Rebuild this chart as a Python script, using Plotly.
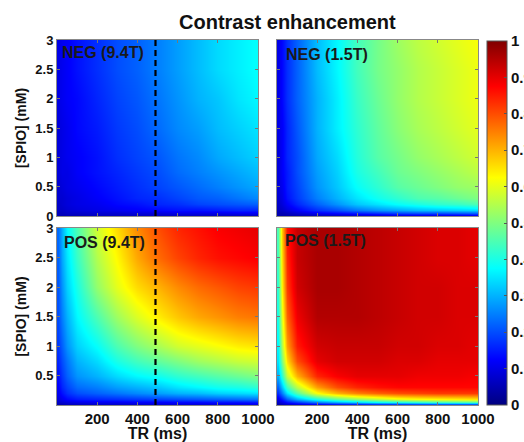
import plotly.graph_objects as go

# ---- data ----
TR = [5, 25, 50, 100, 200, 300, 400, 500, 600, 700, 800, 900, 1000]          # ms
SPIO = [0, 0.05, 0.1, 0.2, 0.3, 0.5, 0.75, 1.0, 1.5, 2.0, 2.5, 3.0]         # mM

neg_94 = [
    [0.05, 0.05, 0.05, 0.05, 0.06, 0.06, 0.06, 0.06, 0.06, 0.06, 0.06, 0.06, 0.06],
    [0.06, 0.06, 0.07, 0.07, 0.08, 0.08, 0.09, 0.09, 0.10, 0.10, 0.10, 0.11, 0.11],
    [0.07, 0.07, 0.08, 0.09, 0.10, 0.11, 0.12, 0.13, 0.14, 0.14, 0.15, 0.16, 0.16],
    [0.07, 0.08, 0.09, 0.10, 0.11, 0.13, 0.14, 0.16, 0.17, 0.19, 0.20, 0.21, 0.22],
    [0.08, 0.08, 0.09, 0.10, 0.12, 0.14, 0.16, 0.17, 0.19, 0.21, 0.22, 0.24, 0.26],
    [0.08, 0.09, 0.10, 0.11, 0.13, 0.15, 0.17, 0.19, 0.21, 0.23, 0.25, 0.27, 0.29],
    [0.09, 0.10, 0.10, 0.12, 0.14, 0.16, 0.18, 0.20, 0.23, 0.25, 0.27, 0.29, 0.31],
    [0.09, 0.10, 0.11, 0.12, 0.14, 0.17, 0.19, 0.21, 0.24, 0.26, 0.29, 0.31, 0.33],
    [0.09, 0.10, 0.11, 0.13, 0.15, 0.18, 0.20, 0.23, 0.26, 0.28, 0.31, 0.33, 0.35],
    [0.10, 0.11, 0.12, 0.13, 0.16, 0.19, 0.21, 0.24, 0.27, 0.30, 0.32, 0.35, 0.37],
    [0.10, 0.11, 0.12, 0.14, 0.17, 0.20, 0.22, 0.25, 0.28, 0.31, 0.34, 0.36, 0.38],
    [0.10, 0.11, 0.12, 0.14, 0.17, 0.20, 0.22, 0.25, 0.28, 0.31, 0.34, 0.36, 0.38],
]

neg_15 = [
    [0.04, 0.04, 0.04, 0.04, 0.05, 0.05, 0.06, 0.06, 0.07, 0.07, 0.07, 0.07, 0.08],
    [0.05, 0.05, 0.06, 0.08, 0.11, 0.13, 0.15, 0.17, 0.19, 0.20, 0.20, 0.21, 0.22],
    [0.06, 0.07, 0.09, 0.12, 0.17, 0.20, 0.24, 0.27, 0.29, 0.31, 0.32, 0.33, 0.34],
    [0.07, 0.09, 0.12, 0.16, 0.22, 0.27, 0.32, 0.35, 0.38, 0.40, 0.42, 0.43, 0.45],
    [0.08, 0.10, 0.14, 0.18, 0.25, 0.30, 0.35, 0.39, 0.42, 0.45, 0.46, 0.48, 0.50],
    [0.09, 0.11, 0.15, 0.19, 0.27, 0.32, 0.38, 0.42, 0.46, 0.48, 0.50, 0.52, 0.53],
    [0.09, 0.12, 0.15, 0.20, 0.28, 0.33, 0.40, 0.44, 0.48, 0.50, 0.52, 0.54, 0.56],
    [0.09, 0.12, 0.16, 0.20, 0.29, 0.34, 0.41, 0.46, 0.49, 0.52, 0.54, 0.56, 0.58],
    [0.10, 0.12, 0.16, 0.21, 0.30, 0.36, 0.42, 0.47, 0.51, 0.54, 0.56, 0.58, 0.60],
    [0.10, 0.13, 0.17, 0.22, 0.30, 0.36, 0.43, 0.48, 0.52, 0.55, 0.57, 0.59, 0.61],
    [0.10, 0.13, 0.17, 0.22, 0.31, 0.37, 0.44, 0.49, 0.52, 0.55, 0.57, 0.59, 0.61],
    [0.10, 0.13, 0.17, 0.22, 0.31, 0.37, 0.44, 0.49, 0.53, 0.56, 0.58, 0.60, 0.62],
]

pos_94 = [
    [0.04, 0.04, 0.05, 0.05, 0.06, 0.06, 0.06, 0.07, 0.07, 0.07, 0.07, 0.08, 0.08],
    [0.07, 0.08, 0.09, 0.10, 0.11, 0.11, 0.12, 0.12, 0.13, 0.13, 0.14, 0.14, 0.15],
    [0.09, 0.11, 0.13, 0.15, 0.16, 0.17, 0.18, 0.19, 0.20, 0.21, 0.22, 0.23, 0.24],
    [0.11, 0.14, 0.17, 0.20, 0.22, 0.24, 0.26, 0.28, 0.30, 0.31, 0.33, 0.34, 0.35],
    [0.12, 0.16, 0.19, 0.23, 0.25, 0.28, 0.30, 0.32, 0.35, 0.37, 0.39, 0.40, 0.42],
    [0.14, 0.18, 0.22, 0.27, 0.30, 0.34, 0.37, 0.39, 0.42, 0.44, 0.46, 0.48, 0.50],
    [0.16, 0.20, 0.24, 0.30, 0.34, 0.40, 0.44, 0.47, 0.50, 0.53, 0.55, 0.57, 0.58],
    [0.18, 0.22, 0.27, 0.33, 0.38, 0.45, 0.50, 0.54, 0.58, 0.60, 0.62, 0.64, 0.65],
    [0.20, 0.25, 0.30, 0.37, 0.45, 0.53, 0.59, 0.64, 0.68, 0.71, 0.73, 0.75, 0.76],
    [0.21, 0.27, 0.33, 0.40, 0.52, 0.60, 0.66, 0.70, 0.74, 0.77, 0.79, 0.81, 0.82],
    [0.22, 0.29, 0.35, 0.43, 0.55, 0.63, 0.71, 0.77, 0.81, 0.84, 0.86, 0.87, 0.88],
    [0.23, 0.30, 0.37, 0.45, 0.58, 0.66, 0.74, 0.80, 0.84, 0.86, 0.88, 0.89, 0.90],
]

pos_15 = [
    [0.03, 0.04, 0.05, 0.06, 0.07, 0.08, 0.08, 0.09, 0.09, 0.10, 0.10, 0.10, 0.10],
    [0.07, 0.10, 0.14, 0.18, 0.25, 0.30, 0.34, 0.38, 0.40, 0.42, 0.44, 0.45, 0.46],
    [0.10, 0.15, 0.22, 0.30, 0.40, 0.47, 0.52, 0.56, 0.60, 0.62, 0.63, 0.64, 0.65],
    [0.17, 0.25, 0.35, 0.46, 0.62, 0.70, 0.75, 0.78, 0.80, 0.81, 0.82, 0.82, 0.82],
    [0.22, 0.32, 0.44, 0.56, 0.72, 0.80, 0.84, 0.86, 0.87, 0.87, 0.87, 0.87, 0.87],
    [0.30, 0.42, 0.57, 0.70, 0.84, 0.88, 0.90, 0.90, 0.90, 0.89, 0.89, 0.89, 0.88],
    [0.35, 0.50, 0.66, 0.80, 0.90, 0.92, 0.92, 0.92, 0.91, 0.91, 0.90, 0.90, 0.90],
    [0.37, 0.55, 0.72, 0.85, 0.92, 0.93, 0.93, 0.93, 0.92, 0.92, 0.91, 0.91, 0.90],
    [0.40, 0.60, 0.78, 0.89, 0.95, 0.95, 0.95, 0.94, 0.93, 0.92, 0.92, 0.91, 0.91],
    [0.42, 0.64, 0.82, 0.92, 0.96, 0.96, 0.95, 0.94, 0.93, 0.92, 0.92, 0.91, 0.91],
    [0.44, 0.66, 0.84, 0.93, 0.96, 0.96, 0.95, 0.94, 0.93, 0.92, 0.91, 0.91, 0.90],
    [0.45, 0.68, 0.86, 0.93, 0.96, 0.96, 0.95, 0.94, 0.93, 0.92, 0.91, 0.91, 0.90],
]

panel_labels = ["NEG (9.4T)", "NEG (1.5T)", "POS (9.4T)", "POS (1.5T)"]
dashed_tr = 490
x_ticks = [200, 400, 600, 800, 1000]
y_ticks_top = [0, 0.5, 1, 1.5, 2, 2.5, 3]
y_ticks_bottom = [0.5, 1, 1.5, 2, 2.5, 3]
cbar_ticks = [0, 0.1, 0.2, 0.3, 0.4, 0.5, 0.6, 0.7, 0.8, 0.9, 1]
cbar_text = ["0", "0.1", "0.2", "0.3", "0.4", "0.5", "0.6", "0.7", "0.8", "0.9", "1"]

# ---- layout geometry (pixels) ----
W, H = 524, 442
def px_x(a, b):
    return [a / W, b / W]
def px_y(top, bottom):
    return [1 - bottom / H, 1 - top / H]

jet = [[0.0, "#000080"], [0.125, "#0000ff"], [0.375, "#00ffff"],
       [0.625, "#ffff00"], [0.875, "#ff0000"], [1.0, "#800000"]]

FONT = "Liberation Sans, Arial, sans-serif"
fig = go.Figure()

panels = [
    (neg_94, "x", "y"),
    (neg_15, "x2", "y2"),
    (pos_94, "x3", "y3"),
    (pos_15, "x4", "y4"),
]
for z, xa, ya in panels:
    fig.add_trace(go.Heatmap(x=TR, y=SPIO, z=z, coloraxis="coloraxis",
                             zsmooth="best", xaxis=xa, yaxis=ya,
                             hoverinfo="skip"))

for xa, ya in [("x", "y"), ("x3", "y3")]:
    fig.add_trace(go.Scatter(x=[dashed_tr, dashed_tr], y=[0, 3], mode="lines",
                             line=dict(color="black", width=2.2, dash="6px,4px"),
                             xaxis=xa, yaxis=ya, showlegend=False,
                             hoverinfo="skip"))

xdom_l = px_x(57, 258)
xdom_r = px_x(277, 478)
ydom_t = px_y(40, 216)
ydom_b = px_y(228, 405)

axis_common = dict(showline=True, linecolor="#888", linewidth=1, mirror="ticks",
                   ticks="inside", ticklen=3, tickcolor="#777", showgrid=False,
                   zeroline=False)
xfont = dict(family=FONT, size=15, color="#111", weight=700)
yfont = dict(family=FONT, size=13, color="#111", weight=700)

def xaxis(dom, anchor, labels):
    d = dict(axis_common, domain=dom, anchor=anchor, range=[0, 1000],
             tickvals=x_ticks, tickfont=xfont, showticklabels=labels)
    if labels:
        d["title"] = dict(text="TR (ms)", font=dict(family=FONT, size=16, color="#111", weight=700),
                          standoff=3)
    return d

def yaxis(dom, anchor, ticks, labels):
    d = dict(axis_common, domain=dom, anchor=anchor, range=[0, 3],
             tickvals=ticks, tickfont=yfont, showticklabels=labels)
    if labels:
        d["title"] = dict(text="[SPIO] (mM)", font=dict(family=FONT, size=14, color="#111", weight=700),
                          standoff=5)
    return d

fig.update_layout(
    width=W, height=H,
    margin=dict(l=0, r=0, t=0, b=0, autoexpand=False),
    paper_bgcolor="white", plot_bgcolor="white",
    showlegend=False,
    xaxis=xaxis(xdom_l, "y", False),
    yaxis=yaxis(ydom_t, "x", y_ticks_top, True),
    xaxis2=xaxis(xdom_r, "y2", False),
    yaxis2=yaxis(ydom_t, "x2", y_ticks_top, False),
    xaxis3=xaxis(xdom_l, "y3", True),
    yaxis3=yaxis(ydom_b, "x3", y_ticks_bottom, True),
    xaxis4=xaxis(xdom_r, "y4", True),
    yaxis4=yaxis(ydom_b, "x4", y_ticks_bottom, False),
    coloraxis=dict(
        colorscale=jet, cmin=0, cmax=1,
        colorbar=dict(
            x=487 / W, xanchor="left", xpad=0, ypad=0,
            y=1 - 223 / H, yanchor="middle",
            len=364 / H, lenmode="fraction",
            thickness=20, thicknessmode="pixels",
            outlinewidth=1, outlinecolor="#555",
            tickvals=cbar_ticks, ticktext=cbar_text,
            ticks="inside", ticklen=3, tickcolor="#555",
            tickfont=dict(family=FONT, size=15, color="#111", weight=700),
        ),
    ),
)

annos = [
    dict(text="Contrast enhancement", x=287 / W, y=1 - 22 / H, xanchor="center", yanchor="middle",
         font=dict(family=FONT, size=20, color="#111", weight=700)),
]
label_pos = [(60, 52.5), (284, 54), (62, 242), (283, 241)]
for txt, (lx, ly) in zip(panel_labels, label_pos):
    annos.append(dict(text=txt, x=lx / W, y=1 - ly / H, xanchor="left", yanchor="middle",
                      font=dict(family=FONT, size=16, color="#1a1a1a", weight=700)))
for a in annos:
    a.update(xref="paper", yref="paper", showarrow=False)
fig.update_layout(annotations=annos)

fig.write_html("out.html",
               config={"displayModeBar": False},
               post_script="document.body.style.margin='0';document.body.style.overflow='hidden';")
